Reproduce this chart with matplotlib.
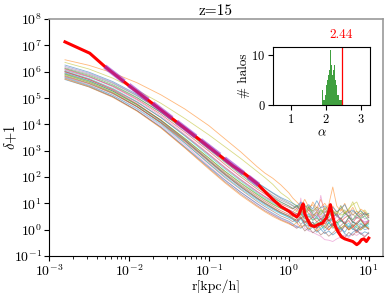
import numpy as np
import matplotlib
matplotlib.use("Agg")
import matplotlib.pyplot as plt
from matplotlib.ticker import LogLocator, NullLocator
from matplotlib.transforms import blended_transform_factory

plt.rcParams["font.family"] = "serif"
plt.rcParams["font.serif"] = ["cmr10"]
plt.rcParams["mathtext.fontset"] = "cm"
plt.rcParams["axes.formatter.use_mathtext"] = True
plt.rcParams["axes.unicode_minus"] = False

# radii of the profile bins, log10(r / kpc/h)
log_r = [-2.8, -2.5, -2.2, -1.9, -1.6, -1.3, -1.0, -0.8, -0.6, -0.4, -0.3, -0.2, -0.1, 0.0,
         0.05, 0.1, 0.15, 0.2, 0.25, 0.3, 0.35, 0.4, 0.45, 0.5, 0.55, 0.6, 0.65, 0.7,
         0.75, 0.8, 0.85, 0.9, 0.95, 1.0]

# log10(delta+1) for the individual halos
halo_profiles = [
    [5.95, 5.66, 5.26, 4.74, 4.12, 3.40, 2.62, 2.10, 1.62, 1.18, 0.98, 0.80, 0.62, 0.48,
     0.40, 0.28, 0.45, 0.20, 0.12, 0.30, 0.05, 0.18, -0.05, 0.10, 0.22, 0.00, 0.08, -0.10, 0.15, 0.02, -0.05, 0.12, 0.00, 0.05],
    [6.45, 6.24, 5.95, 5.58, 5.12, 4.58, 3.95, 3.45, 2.95, 2.40, 2.15, 1.95, 1.70, 1.40,
     1.20, 1.05, 0.90, 1.15, 0.85, 0.95, 0.70, 0.85, 1.00, 0.75, 0.90, 0.65, 0.80, 0.60, 0.75, 0.55, 0.70, 0.50, 0.62, 0.45],
    [5.85, 5.56, 5.18, 4.68, 4.08, 3.38, 2.62, 2.12, 1.66, 1.22, 1.02, 0.84, 0.66, 0.52,
     0.45, 0.35, 0.50, 0.28, 0.38, 0.15, 0.30, 0.22, 0.05, 0.25, 0.12, 0.30, 0.05, 0.18, 0.00, 0.20, 0.08, -0.02, 0.15, 0.05],
    [6.10, 5.82, 5.44, 4.95, 4.38, 3.70, 2.98, 2.48, 2.00, 1.55, 1.35, 1.15, 0.98, 0.85,
     0.78, 0.90, 0.70, 0.55, 0.75, 0.50, 0.65, 0.40, 0.58, 0.35, 0.50, 0.62, 0.30, 0.45, 0.55, 0.25, 0.48, 0.38, 0.20, 0.35],
    [6.20, 5.94, 5.58, 5.10, 4.52, 3.85, 3.12, 2.62, 2.14, 1.68, 1.47, 1.26, 1.06, 0.90,
     0.82, 0.72, 0.88, 0.62, 0.78, 0.55, 0.70, 0.48, 0.65, 0.75, 0.45, 0.60, 0.40, 0.55, 0.68, 0.35, 0.50, 0.62, 0.40, 0.48],
    [5.90, 5.60, 5.20, 4.68, 4.05, 3.30, 2.50, 1.98, 1.52, 1.08, 0.88, 0.70, 0.52, 0.40,
     0.30, 0.42, 0.20, 0.35, 0.15, 0.28, 0.05, 0.20, 0.38, 0.10, 0.25, 0.00, 0.15, 0.30, 0.05, 0.18, -0.05, 0.22, 0.10, 0.30],
    [5.80, 5.50, 5.10, 4.58, 3.95, 3.22, 2.42, 1.90, 1.42, 0.98, 0.78, 0.58, 0.42, 0.28,
     0.18, 0.08, 1.20, 0.05, -0.05, -0.10, -0.18, -0.25, -0.38, -0.40, -0.45, -0.35, -0.28, -0.20, -0.30, -0.15, -0.22, -0.10, -0.25, -0.15],
    [6.05, 5.80, 5.46, 5.00, 4.45, 3.80, 3.10, 2.62, 2.15, 1.70, 1.50, 1.30, 1.12, 0.98,
     0.90, 0.80, 0.95, 0.72, 0.85, 0.65, 0.78, 0.58, 0.72, 0.55, 0.68, 0.50, 0.62, 0.75, 0.48, 0.60, 0.42, 0.55, 0.65, 0.45],
    [6.35, 6.10, 5.75, 5.30, 4.80, 4.22, 3.60, 3.15, 2.70, 2.22, 1.98, 1.72, 1.40, 1.18,
     1.00, 0.92, 0.85, 0.95, 0.80, 0.72, 0.85, 0.78, 0.65, 0.72, 0.60, 0.70, 0.55, 0.62, 0.80, 0.95, 1.05, 0.70, 0.55, 0.60],
    [5.78, 5.48, 5.10, 4.60, 4.00, 3.28, 2.52, 2.02, 1.56, 1.14, 0.94, 0.76, 0.60, 0.46,
     0.38, 0.25, 0.40, 0.18, 0.30, 0.10, 0.22, 0.02, 0.15, 0.28, 0.05, 0.18, -0.02, 0.12, 0.25, 0.00, 0.15, 0.05, 0.20, 0.10],
    [5.70, 5.42, 5.04, 4.52, 3.90, 3.15, 2.38, 1.88, 1.42, 1.00, 0.80, 0.62, 0.45, 0.32,
     0.22, 0.12, 0.05, 0.18, -0.02, 0.10, -0.10, 0.02, -0.15, -0.05, -0.20, -0.08, 0.05, -0.15, -0.25, -0.10, 0.00, -0.18, -0.08, -0.15],
    [6.00, 5.72, 5.34, 4.85, 4.26, 3.58, 2.85, 2.35, 1.88, 1.45, 1.25, 1.06, 0.90, 0.76,
     0.68, 0.80, 0.60, 0.92, 0.72, 1.05, 0.82, 1.15, 0.75, 0.95, 1.62, 0.90, 0.70, 1.00, 0.62, 0.85, 0.55, 0.78, 0.68, 0.52],
    [6.12, 5.86, 5.50, 5.02, 4.45, 3.78, 3.05, 2.56, 2.08, 1.62, 1.42, 1.22, 1.04, 0.90,
     0.80, 0.92, 0.72, 0.62, 0.85, 0.60, 0.50, 0.75, 0.58, 0.45, 0.70, 0.52, 0.40, 0.65, 0.48, 0.38, 0.58, 0.42, 0.52, 0.35],
    [5.82, 5.54, 5.16, 4.66, 4.06, 3.35, 2.58, 2.08, 1.62, 1.20, 1.00, 0.82, 0.65, 0.52,
     0.42, 0.32, 0.45, 0.25, 0.38, 0.15, 0.05, 0.28, 0.12, -0.02, 0.20, 0.05, -0.08, 0.15, 0.00, 0.10, -0.12, 0.05, 0.18, 0.00],
    [5.98, 5.70, 5.32, 4.84, 4.26, 3.58, 2.86, 2.36, 1.90, 1.46, 1.26, 1.08, 0.90, 0.76,
     0.68, 0.58, 0.70, 0.50, 0.62, 0.45, 0.58, 0.38, 0.52, 0.32, 0.48, 0.60, 0.35, 0.25, 0.45, 0.30, 0.20, 0.40, 0.28, 0.35],
    [5.75, 5.45, 5.05, 4.52, 3.88, 3.12, 2.34, 1.82, 1.35, 0.92, 0.72, 0.55, 0.38, 0.25,
     0.15, 0.05, 0.18, -0.05, 0.08, -0.12, 0.00, -0.20, -0.08, -0.25, -0.12, 0.02, -0.18, -0.30, -0.10, -0.22, -0.05, -0.15, -0.28, -0.10],
    [6.08, 5.80, 5.42, 4.92, 4.32, 3.62, 2.88, 2.38, 1.90, 1.46, 1.26, 1.06, 0.90, 0.75,
     0.68, 0.60, 0.52, 0.65, 0.45, 0.58, 0.40, 1.30, 0.55, 0.42, 0.30, 0.50, 0.38, 0.25, 0.45, 0.32, 0.20, 0.40, 0.28, 0.35],
    [6.15, 5.90, 5.55, 5.08, 4.52, 3.86, 3.16, 2.68, 2.22, 1.78, 1.58, 1.38, 1.18, 1.02,
     0.92, 0.82, 1.00, 0.78, 0.90, 0.70, 0.85, 0.65, 0.80, 0.60, 0.75, 0.55, 0.92, 0.62, 0.50, 0.70, 0.58, 0.45, 0.65, 0.52],
    [5.88, 5.60, 5.22, 4.74, 4.16, 3.46, 2.72, 2.22, 1.78, 1.36, 1.16, 0.98, 0.82, 0.68,
     0.60, 0.70, 0.55, 0.78, 0.62, 0.50, 0.68, 0.55, 0.85, 0.60, 0.72, 0.58, 0.90, 0.65, 0.75, 1.06, 0.70, 0.60, 0.75, 0.55],
    [6.02, 5.74, 5.36, 4.86, 4.26, 3.55, 2.80, 2.30, 1.84, 1.40, 1.20, 1.02, 0.85, 0.70,
     0.62, 0.52, 0.65, 0.45, 0.58, 0.38, 0.50, 0.30, 0.45, 0.25, 0.40, 0.18, 0.35, 0.22, 0.10, 0.30, 0.15, 0.25, 0.08, 0.20],
    [6.25, 5.98, 5.62, 5.14, 4.56, 3.90, 3.20, 2.72, 2.25, 1.80, 1.60, 1.40, 1.22, 1.08,
     1.00, 0.88, 1.05, 0.85, 0.95, 0.78, 1.10, 0.82, 0.90, 0.72, 0.85, 0.68, 0.80, 0.95, 0.65, 0.75, 0.60, 0.72, 0.55, 0.62],
    [5.72, 5.42, 5.02, 4.50, 3.86, 3.10, 2.30, 1.78, 1.30, 0.88, 0.68, 0.50, 0.35, 0.22,
     0.15, 0.28, 0.08, 0.20, 0.02, 0.15, -0.05, 0.10, 0.25, 0.00, 0.12, -0.08, 0.05, 0.18, -0.02, 0.10, 0.22, 0.00, 0.12, 0.05],
    [5.92, 5.64, 5.26, 4.76, 4.16, 3.46, 2.72, 2.22, 1.76, 1.34, 1.14, 0.96, 0.80, 0.66,
     0.58, 0.48, 0.60, 0.40, 0.52, 0.35, 0.45, 0.28, 0.55, 0.32, 0.42, 0.25, 0.38, 0.20, 0.48, 0.30, 0.22, 0.35, 0.15, 0.25],
    [6.00, 5.70, 5.30, 4.78, 4.15, 3.42, 2.66, 2.16, 1.70, 1.28, 1.08, 0.90, 0.72, 0.58,
     0.50, 0.62, 0.42, 0.55, 0.35, 0.48, 0.30, 0.42, 0.22, 0.38, 0.15, 0.32, 0.45, 0.20, 0.35, 0.10, 0.28, 0.40, 0.18, 0.30],
]

# the highlighted halo (red)
main_log_r = [-2.80, -2.49, -2.30, -2.0, -1.7, -1.4, -1.11, -0.9, -0.7, -0.55, -0.40, -0.30,
              -0.20, -0.10, 0.00, 0.05, 0.10, 0.13, 0.16, 0.18, 0.20, 0.23, 0.27, 0.32, 0.37,
              0.42, 0.47, 0.50, 0.52, 0.55, 0.58, 0.62, 0.66, 0.70, 0.75, 0.80, 0.85, 0.88,
              0.91, 0.94, 0.97, 1.00]
main_log_rho = [7.13, 6.70, 6.19, 5.47, 4.78, 4.08, 3.40, 2.90, 2.42, 2.12, 1.76, 1.45,
                1.15, 0.88, 0.70, 0.58, 0.48, 0.60, 0.85, 0.98, 0.60, 0.40, 0.17, 0.12, 0.20,
                0.25, 0.45, 0.70, 0.95, 0.50, 0.15, -0.10, -0.28, -0.35, -0.40, -0.45, -0.57, -0.50,
                -0.38, -0.35, -0.45, -0.32]

# power-law fit to the highlighted halo
fit_r = [0.005, 0.42]
fit_rho = [1.55e6, 50.0]

# distribution of slopes
alpha_edges = [1.850, 1.875, 1.900, 1.925, 1.950, 1.975, 2.000, 2.025, 2.050, 2.075, 2.100, 2.125,
               2.150, 2.175, 2.200, 2.225, 2.250, 2.275, 2.300, 2.325, 2.350, 2.375, 2.400, 2.425]
alpha_counts = [0, 1, 3, 1, 1, 2, 4, 5, 6, 7, 8, 11, 8, 6, 7, 8, 5, 4, 3, 2, 2, 1, 1, 1]
alpha_main = 2.44

colors = plt.rcParams["axes.prop_cycle"].by_key()["color"]

fig = plt.figure(figsize=(3.9, 2.93), dpi=100)
ax = fig.add_axes([0.1256, 0.1263, 0.856, 0.809])

r = 10 ** np.array(log_r)
for i, prof in enumerate(halo_profiles):
    ax.plot(r, 10 ** np.array(prof), color=colors[i % 10], lw=0.6, alpha=0.55)

ax.plot(10 ** np.array(main_log_r), 10 ** np.array(main_log_rho), color="red", lw=2.2, zorder=5)
ax.plot(fit_r, fit_rho, color="darkorchid", lw=3.5, ls=(0, (5, 1.2)), alpha=0.6, zorder=6)

ax.set_xscale("log")
ax.set_yscale("log")
ax.set_xlim(1e-3, 15)
ax.set_ylim(1e-1, 1e8)
ax.yaxis.set_major_locator(LogLocator(base=10, numticks=20))
ax.yaxis.set_minor_locator(NullLocator())
ax.tick_params(labelsize=10, pad=1.5)
ax.set_title("z=15", fontsize=11, pad=3)
ax.set_xlabel("r[kpc/h]", fontsize=10)
ax.set_ylabel(r"$\delta$+1", fontsize=10.5)
ax.xaxis.set_label_coords(0.5, -0.1)
ax.yaxis.set_label_coords(-0.09, 0.5)
for side in ["top", "right"]:
    ax.spines[side].set_color("0.6")
    ax.spines[side].set_linewidth(1.2)

# inset histogram
axin = fig.add_axes([0.700, 0.642, 0.249, 0.198])
axin.bar(alpha_edges, alpha_counts, width=0.025, align="edge", color="green", alpha=0.75)
axin.axvline(alpha_main, color="red", lw=0.9)
trans = blended_transform_factory(axin.transData, axin.transAxes)
axin.text(alpha_main, 1.1, f"{alpha_main:.2f}", color="red", fontsize=9.5,
          ha="center", va="bottom", transform=trans)
axin.set_xlim(0.5, 3.25)
axin.set_xticks([1, 2, 3])
axin.set_yticks([0, 10])
axin.tick_params(labelsize=9, pad=2)
axin.set_ylabel("# halos", fontsize=9.5, labelpad=1)
axin.set_xlabel(r"$\alpha$", fontsize=9.5, labelpad=1)

fig.savefig("out.png", dpi=100)
